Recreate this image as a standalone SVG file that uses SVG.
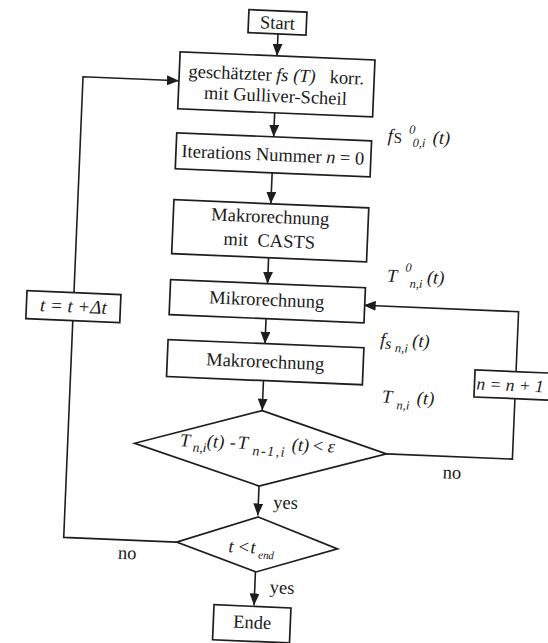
<svg xmlns="http://www.w3.org/2000/svg" width="548" height="643" viewBox="0 0 548 643">
<style>
.bx{fill:#fff;stroke:#1e1e1e;stroke-width:1.7}
.cn{fill:none;stroke:#1e1e1e;stroke-width:1.6}
.t{font-family:'Liberation Serif','Times New Roman',serif;font-size:18.5px;fill:#1a1a1a}
.c{text-anchor:middle}
.m{font-style:italic}
.s{font-size:12.5px}
.u{font-style:normal}
</style>
<defs>
<marker id="ah" markerUnits="userSpaceOnUse" markerWidth="12" markerHeight="10" refX="12" refY="5" orient="auto">
<path d="M0,0 L12,5 L0,10 z" fill="#1e1e1e"/>
</marker>
</defs>
<rect width="548" height="643" fill="#fff"/>
<g transform="rotate(2.4 274 320)">
<g id="connectors">
<path class="cn" d="M266,34 V56" marker-end="url(#ah)"/>
<path class="cn" d="M266,113 V137" marker-end="url(#ah)"/>
<path class="cn" d="M266,173 V204" marker-end="url(#ah)"/>
<path class="cn" d="M266,258 V284" marker-end="url(#ah)"/>
<path class="cn" d="M266,319 V344" marker-end="url(#ah)"/>
<path class="cn" d="M266,381 V411" marker-end="url(#ah)"/>
<path class="cn" d="M266,486.5 V516" marker-end="url(#ah)"/>
<path class="cn" d="M266,572.5 V606" marker-end="url(#ah)"/>
<path class="cn" d="M186,546 H73 V85 H169" marker-end="url(#ah)"/>
<path class="cn" d="M392,449 H518 V301.5 H363" marker-end="url(#ah)"/>
</g>
<g id="start">
<rect class="bx" x="236" y="11" width="58" height="23"/>
<text class="t c" x="265" y="29">Start</text>
</g>
<g id="estimate">
<rect class="bx" x="169" y="56" width="195" height="57"/>
<text class="t c" x="266" y="81">geschätzter <tspan class="m">fs (T)</tspan>&#160;&#160; korr.</text>
<text class="t c" x="266" y="102">mit Gulliver-Scheil</text>
</g>
<g id="iter">
<rect class="bx" x="169" y="137" width="195" height="36"/>
<text class="t c" x="266" y="161">Iterations Nummer <tspan class="m">n</tspan> = 0</text>
</g>
<g id="makro-casts">
<rect class="bx" x="169" y="204" width="195" height="54"/>
<text class="t c" x="266" y="223">Makrorechnung</text>
<text class="t c" x="266" y="247">mit&#160; CASTS</text>
</g>
<g id="mikro">
<rect class="bx" x="169" y="284" width="195" height="35"/>
<text class="t c" x="266" y="306">Mikrorechnung</text>
</g>
<g id="makro">
<rect class="bx" x="169" y="344" width="196" height="37"/>
<text class="t c" x="267" y="368">Makrorechnung</text>
</g>
<g id="check-conv">
<polygon class="bx" points="266,411 392,449 266,486.5 140,449"/>
<text class="t m"><tspan x="185" y="450">T</tspan><tspan class="s" x="198" y="455" style="font-size:13.5px">n,i</tspan><tspan x="212" y="450">(t)</tspan><tspan x="235" y="450">-</tspan><tspan x="243" y="450">T</tspan><tspan class="s" x="258" y="456" style="font-size:14px;letter-spacing:1.5px">n-1,i</tspan><tspan x="297" y="450">(t)</tspan><tspan x="317" y="450">&lt;</tspan><tspan x="333" y="450">ε</tspan></text>
</g>
<g id="check-time">
<polygon class="bx" points="266.5,517.5 347,546 266.5,572.5 186,546"/>
<text class="t m"><tspan x="238" y="554">t</tspan><tspan x="247" y="554">&lt;</tspan><tspan x="260" y="554">t</tspan><tspan class="s" x="268" y="559" style="font-size:11px">end</tspan></text>
</g>
<g id="ende">
<rect class="bx" x="226" y="607" width="77" height="35"/>
<text class="t c" x="265" y="629">Ende</text>
</g>
<g id="time-step">
<rect class="bx" x="26" y="301" width="94" height="28"/>
<text class="t m c" x="73" y="321" style="font-size:19px">t = t +Δt</text>
</g>
<g id="n-incr">
<rect class="bx" x="477" y="361.5" width="82" height="27"/>
<text class="t m" x="479" y="381" style="font-size:17.5px">n = n + 1</text>
</g>
<g id="labels">
<text class="t m"><tspan x="380" y="137">f</tspan><tspan class="u" x="386" y="138" style="font-size:15px">S</tspan><tspan class="s" x="401" y="128">0</tspan><tspan class="s" x="405" y="141">0,i</tspan><tspan x="425" y="137">(t)</tspan></text>
<text class="t m"><tspan x="385" y="277">T</tspan><tspan class="s" x="403" y="266">0</tspan><tspan class="s" x="408" y="282">n,i</tspan><tspan x="425" y="277">(t)</tspan></text>
<text class="t m"><tspan x="381" y="341">f</tspan><tspan x="386" y="344" style="font-size:16px">s</tspan><tspan class="s" x="396" y="347">n,i</tspan><tspan x="413" y="341">(t)</tspan></text>
<text class="t m"><tspan x="385" y="398">T</tspan><tspan class="s" x="400" y="404">n,i</tspan><tspan x="420" y="398">(t)</tspan></text>
<text class="t" x="281" y="508">yes</text>
<text class="t" x="281" y="593">yes</text>
<text class="t" x="449" y="471">no</text>
<text class="t" x="128" y="565">no</text>
</g>
</g>
</svg>
